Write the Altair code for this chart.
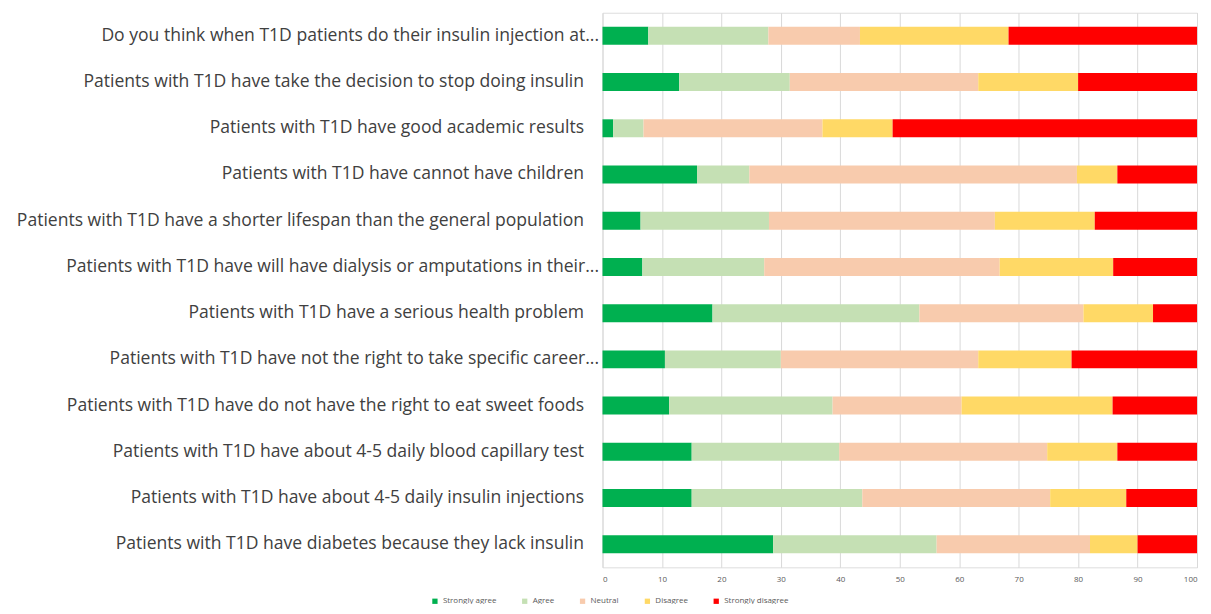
import altair as alt
import pandas as pd

questions = [
    "Do you think when T1D patients do their insulin injection at...",
    "Patients with T1D have take the decision to stop doing insulin",
    "Patients with T1D have good academic results",
    "Patients with T1D have cannot have children",
    "Patients with T1D have a shorter lifespan than the general population",
    "Patients with T1D have will have dialysis or amputations in their...",
    "Patients with T1D have a serious health problem",
    "Patients with T1D have not the right to take specific career...",
    "Patients with T1D have do not have  the right to eat sweet foods",
    "Patients with T1D have about 4-5 daily blood capillary test",
    "Patients with T1D have about 4-5 daily insulin injections",
    "Patients with T1D have diabetes because they lack insulin",
]

strongly_agree = [7.7, 12.9, 1.8, 15.9, 6.4, 6.7, 18.5, 10.5, 11.2, 15.0, 15.0, 28.7]
agree = [20.2, 18.6, 5.1, 8.8, 21.6, 20.5, 34.8, 19.5, 27.5, 24.8, 28.7, 27.5]
neutral = [15.4, 31.7, 30.1, 55.1, 38.0, 39.6, 27.6, 33.2, 21.7, 35.0, 31.6, 25.8]
disagree = [25.0, 16.8, 11.8, 6.8, 16.8, 19.1, 11.7, 15.7, 25.4, 11.8, 12.8, 8.0]
strongly_disagree = [31.7, 20.0, 51.2, 13.4, 17.2, 14.1, 7.4, 21.1, 14.2, 13.4, 11.9, 10.0]

responses = ["Strongly agree", "Agree", "Neutral", "Disagree", "Strongly disagree"]
colors = ["#00B050", "#C5E0B4", "#F8CBAD", "#FFD966", "#FF0000"]
series = [strongly_agree, agree, neutral, disagree, strongly_disagree]

rows = []
for k, (resp, vals) in enumerate(zip(responses, series)):
    for q, v in zip(questions, vals):
        rows.append({"question": q, "response": resp, "value": v, "order": k})
df = pd.DataFrame(rows)

chart = alt.Chart(df).mark_bar(size=18).encode(
    y=alt.Y(
        "question:N",
        sort=questions,
        axis=alt.Axis(
            title=None,
            labelFont="Open Sans",
            labelFontSize=17.6,
            labelColor="#404040",
            labelLimit=800,
            labelPadding={"condition": {"test": "indexof(datum.label, '...') >= 0", "value": 4}, "value": 19},
            ticks=False,
            domain=False,
            grid=False,
        ),
    ),
    x=alt.X(
        "value:Q",
        stack="zero",
        scale=alt.Scale(domain=[0, 100]),
        axis=alt.Axis(
            values=list(range(0, 101, 10)),
            title=None,
            labelFont="Open Sans",
            labelFontSize=8,
            labelColor="#595959",
            grid=True,
            gridColor="#d9d9d9",
            domain=False,
            ticks=False,
            labelPadding=8,
        ),
    ),
    color=alt.Color(
        "response:N",
        sort=responses,
        scale=alt.Scale(domain=responses, range=colors),
        legend=alt.Legend(
            title=None,
            orient="none",
            legendX=-172,
            legendY=586,
            direction="horizontal",
            symbolType="square",
            symbolSize=28,
            labelFont="Open Sans",
            labelFontSize=8,
            labelColor="#595959",
            columnPadding=24,
        ),
    ),
    order=alt.Order("order:Q"),
).properties(
    width=596,
    height=556,
    autosize=alt.AutoSizeParams(type="none"),
    padding={"left": 596, "top": 4, "right": 6, "bottom": 36},
).configure_view(stroke=None).configure(background="white")

chart.save("out.html", embed_options={"renderer": "svg", "actions": False})
